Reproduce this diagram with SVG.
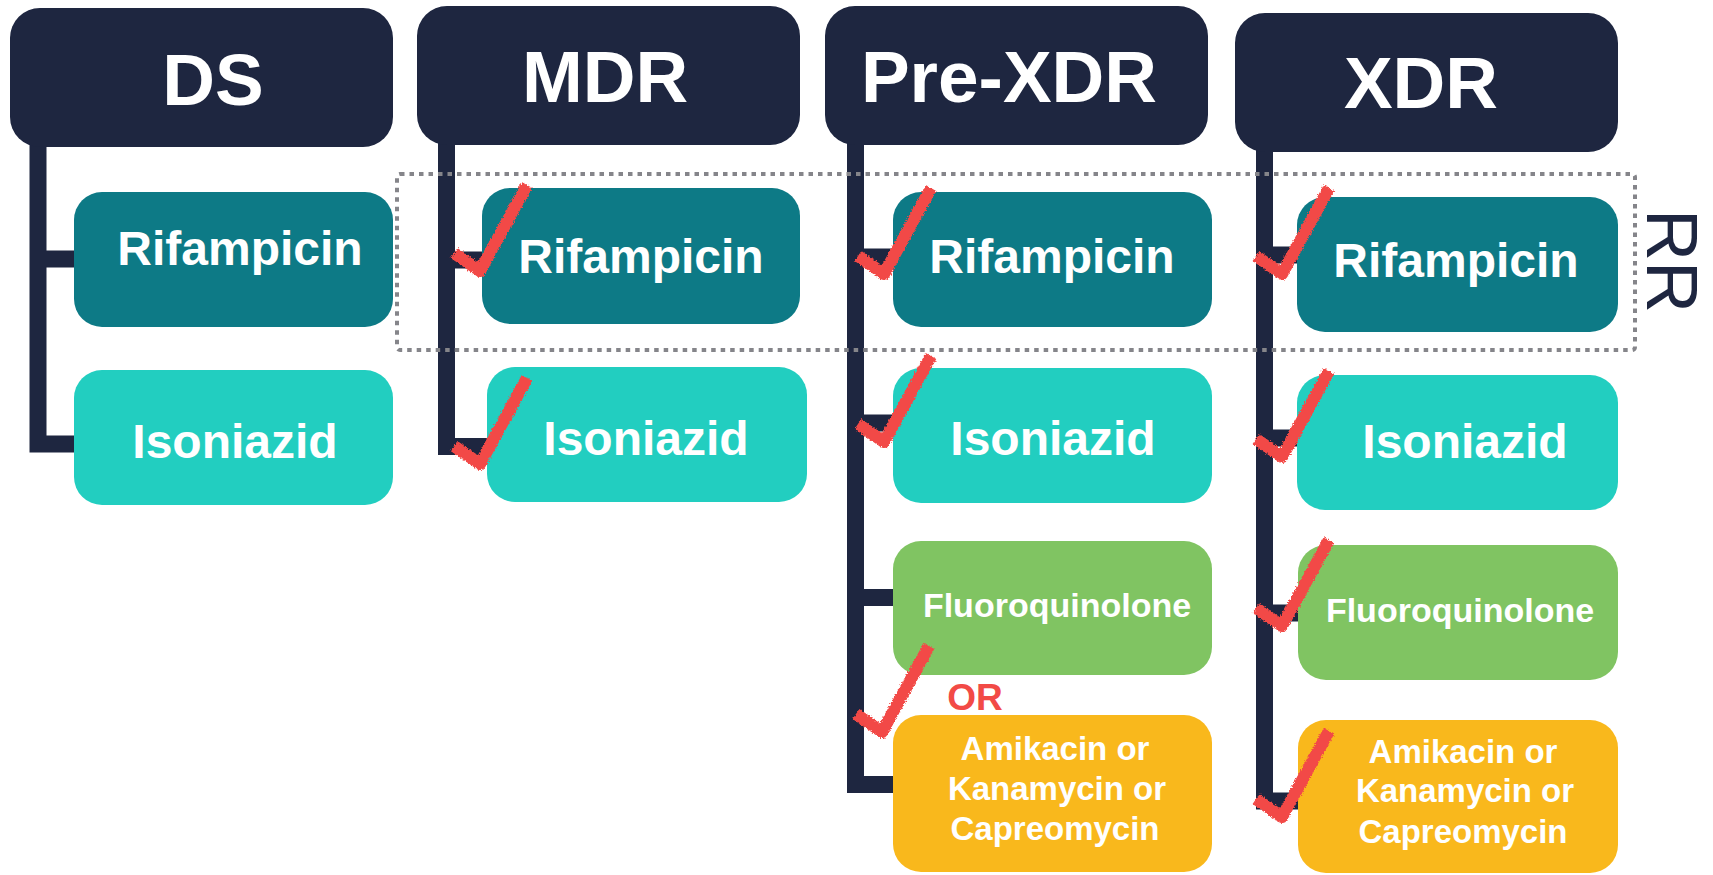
<svg xmlns="http://www.w3.org/2000/svg" width="1713" height="875" viewBox="0 0 1713 875">
  <style>
    .hdr { fill: #1e2640; }
    .hdr-t { fill: #ffffff; font-family: "Liberation Sans", Arial, sans-serif; font-weight: bold; font-size: 73px; text-anchor: middle; }
    .box-t { fill: #ffffff; font-family: "Liberation Sans", Arial, sans-serif; font-weight: bold; font-size: 48px; text-anchor: middle; }
    .box-s { fill: #ffffff; font-family: "Liberation Sans", Arial, sans-serif; font-weight: bold; font-size: 34px; text-anchor: middle; }
    .box-m { fill: #ffffff; font-family: "Liberation Sans", Arial, sans-serif; font-weight: bold; font-size: 33px; text-anchor: middle; }
    .rif { fill: #0d7a86; }
    .inh { fill: #22cec0; }
    .fq { fill: #80c462; }
    .inj { fill: #f9b81c; }
    .link { fill: none; stroke: #1e2640; stroke-width: 17; stroke-linejoin: miter; stroke-linecap: butt; }
    .rr-box { fill: none; stroke: #85858a; stroke-width: 4; stroke-dasharray: 4.5 5; }
    .tick { fill: none; stroke: #f24a46; stroke-width: 12; stroke-linejoin: round; stroke-linecap: butt; }
  </style>
  <defs>
    <filter id="rough" x="-20%" y="-20%" width="140%" height="140%">
      <feTurbulence type="fractalNoise" baseFrequency="0.7" numOctaves="2" seed="3" result="n"/>
      <feDisplacementMap in="SourceGraphic" in2="n" scale="4" xChannelSelector="R" yChannelSelector="G"/>
    </filter>
    <path id="check" class="tick" d="M-26,-18 L0,0 L47,-86"/>
  </defs>

  <rect width="1713" height="875" fill="#ffffff"/>

  <!-- tree connectors -->
  <g id="connectors">
    <path class="link" d="M38,130 V444 H74 M38,259 H74"/>
    <path class="link" d="M446.5,130 V446.5 H487 M446.5,260 H482"/>
    <path class="link" d="M855.5,130 V784.5 H893 M855.5,257 H893 M855.5,423 H893 M855.5,597.5 H893"/>
    <path class="link" d="M1264.5,130 V801 H1298 M1264.5,255 H1297 M1264.5,438 H1297 M1264.5,613 H1298"/>
  </g>

  <!-- RR grouping frame -->
  <g id="rr-group">
    <rect class="rr-box" x="397" y="174" width="1238" height="176" rx="3"/>
    <text x="0" y="0" transform="translate(1647,261) rotate(90)" font-family="'Liberation Sans', Arial, sans-serif" font-size="72" fill="#1e2640" text-anchor="middle">RR</text>
  </g>

  <!-- column headers -->
  <g id="hdr-ds">
    <rect class="hdr" x="10" y="8" width="383" height="139" rx="30"/>
    <text class="hdr-t" x="213" y="105">DS</text>
  </g>
  <g id="hdr-mdr">
    <rect class="hdr" x="417" y="6" width="383" height="139" rx="30"/>
    <text class="hdr-t" x="605" y="102">MDR</text>
  </g>
  <g id="hdr-prexdr">
    <rect class="hdr" x="825" y="6" width="383" height="139" rx="30"/>
    <text class="hdr-t" x="1009" y="102">Pre-XDR</text>
  </g>
  <g id="hdr-xdr">
    <rect class="hdr" x="1235" y="13" width="383" height="139" rx="30"/>
    <text class="hdr-t" x="1421" y="108">XDR</text>
  </g>

  <!-- DS column -->
  <g id="ds-rif">
    <rect class="rif" x="74" y="192" width="319" height="135" rx="28"/>
    <text class="box-t" x="240" y="265">Rifampicin</text>
  </g>
  <g id="ds-inh">
    <rect class="inh" x="74" y="370" width="319" height="135" rx="28"/>
    <text class="box-t" x="235" y="458">Isoniazid</text>
  </g>

  <!-- MDR column -->
  <g id="mdr-rif">
    <rect class="rif" x="482" y="188" width="318" height="136" rx="28"/>
    <text class="box-t" x="641" y="273">Rifampicin</text>
  </g>
  <g id="mdr-inh">
    <rect class="inh" x="487" y="367" width="320" height="135" rx="28"/>
    <text class="box-t" x="646" y="455">Isoniazid</text>
  </g>

  <!-- Pre-XDR column -->
  <g id="pre-rif">
    <rect class="rif" x="893" y="192" width="319" height="135" rx="28"/>
    <text class="box-t" x="1052" y="273">Rifampicin</text>
  </g>
  <g id="pre-inh">
    <rect class="inh" x="893" y="368" width="319" height="135" rx="28"/>
    <text class="box-t" x="1053" y="455">Isoniazid</text>
  </g>
  <g id="pre-fq">
    <rect class="fq" x="893" y="541" width="319" height="134" rx="28"/>
    <text class="box-s" x="1057" y="617">Fluoroquinolone</text>
  </g>
  <g id="pre-inj">
    <rect class="inj" x="893" y="715" width="319" height="157" rx="28"/>
    <text class="box-m" x="1055" y="760">Amikacin or</text>
    <text class="box-m" x="1057" y="800">Kanamycin or</text>
    <text class="box-m" x="1055" y="840">Capreomycin</text>
  </g>
  <text id="or-label" x="975" y="710" font-family="'Liberation Sans', Arial, sans-serif" font-weight="bold" font-size="37" fill="#f24a46" text-anchor="middle">OR</text>

  <!-- XDR column -->
  <g id="xdr-rif">
    <rect class="rif" x="1297" y="197" width="321" height="135" rx="28"/>
    <text class="box-t" x="1456" y="277">Rifampicin</text>
  </g>
  <g id="xdr-inh">
    <rect class="inh" x="1297" y="375" width="321" height="135" rx="28"/>
    <text class="box-t" x="1465" y="458">Isoniazid</text>
  </g>
  <g id="xdr-fq">
    <rect class="fq" x="1298" y="545" width="320" height="135" rx="28"/>
    <text class="box-s" x="1460" y="622">Fluoroquinolone</text>
  </g>
  <g id="xdr-inj">
    <rect class="inj" x="1298" y="720" width="320" height="153" rx="28"/>
    <text class="box-m" x="1463" y="763">Amikacin or</text>
    <text class="box-m" x="1465" y="802">Kanamycin or</text>
    <text class="box-m" x="1463" y="843">Capreomycin</text>
  </g>

  <!-- resistance tick marks -->
  <g id="ticks" filter="url(#rough)">
    <use href="#check" transform="translate(480,271)"/>
    <use href="#check" transform="translate(480,464)"/>
    <use href="#check" transform="translate(884,274)"/>
    <use href="#check" transform="translate(884,442)"/>
    <use href="#check" transform="translate(882,732)"/>
    <use href="#check" transform="translate(1282,274)"/>
    <use href="#check" transform="translate(1282,457)"/>
    <use href="#check" transform="translate(1282,626)"/>
    <use href="#check" transform="translate(1282,817)"/>
  </g>
</svg>
